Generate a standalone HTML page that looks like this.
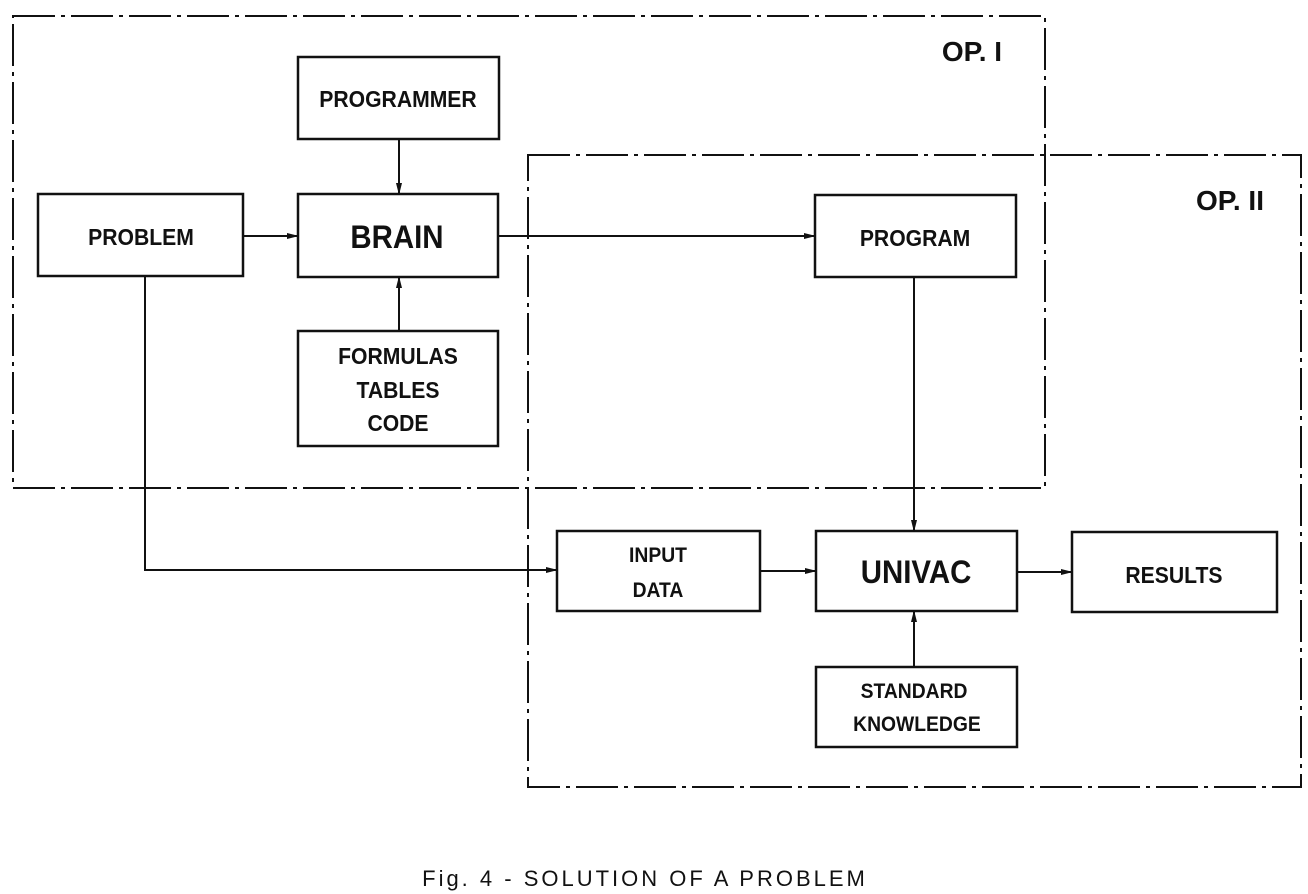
<!DOCTYPE html>
<html><head><meta charset="utf-8"><style>
html,body{margin:0;padding:0;background:#fff;}
svg{display:block;}
text{font-family:"Liberation Sans",sans-serif;font-weight:bold;fill:#111;text-anchor:middle;}
</style></head><body>
<svg width="1308" height="894" viewBox="0 0 1308 894" xmlns="http://www.w3.org/2000/svg">
<defs><marker id="a" markerWidth="12" markerHeight="8" refX="11" refY="4" orient="auto" markerUnits="userSpaceOnUse"><path d="M0,1 L12,4 L0,7 z" fill="#111"/></marker></defs>
<g fill="none" stroke="#111" stroke-width="2" stroke-dasharray="42 6 4 6">
<rect x="13" y="16" width="1032" height="472"/>
<rect x="528" y="155" width="773" height="632"/>
</g>
<g fill="#fff" stroke="#111" stroke-width="2.5">
<rect x="298" y="57" width="201" height="82"/>
<rect x="38" y="194" width="205" height="82"/>
<rect x="298" y="194" width="200" height="83"/>
<rect x="815" y="195" width="201" height="82"/>
<rect x="298" y="331" width="200" height="115"/>
<rect x="557" y="531" width="203" height="80"/>
<rect x="816" y="531" width="201" height="80"/>
<rect x="1072" y="532" width="205" height="80"/>
<rect x="816" y="667" width="201" height="80"/>
</g>
<g stroke="#111" stroke-width="2" fill="none" marker-end="url(#a)">
<line x1="399" y1="139" x2="399" y2="194"/>
<line x1="243" y1="236" x2="298" y2="236"/>
<line x1="498" y1="236" x2="815" y2="236"/>
<line x1="399" y1="331" x2="399" y2="277"/>
<polyline points="145,276 145,570 557,570"/>
<line x1="760" y1="571" x2="816" y2="571"/>
<line x1="914" y1="277" x2="914" y2="531"/>
<line x1="1017" y1="572" x2="1072" y2="572"/>
<line x1="914" y1="667" x2="914" y2="611"/>
</g>
<g transform="scale(0.92,1)">
<text x="432.6" y="107" font-size="23">PROGRAMMER</text>
<text x="153.3" y="245" font-size="23">PROBLEM</text>
<text x="431.5" y="248" font-size="32">BRAIN</text>
<text x="994.6" y="246" font-size="23">PROGRAM</text>
<text x="432.6" y="364" font-size="23">FORMULAS</text>
<text x="432.6" y="398" font-size="23">TABLES</text>
<text x="432.6" y="431" font-size="23">CODE</text>
<text x="715.2" y="562" font-size="21">INPUT</text>
<text x="715.2" y="597" font-size="21">DATA</text>
<text x="995.7" y="583" font-size="32">UNIVAC</text>
<text x="1276" y="583" font-size="23">RESULTS</text>
<text x="993.5" y="698" font-size="21">STANDARD</text>
<text x="996.7" y="731" font-size="21">KNOWLEDGE</text>
</g>
<text x="972" y="61" font-size="28">OP. I</text>
<text x="1230" y="210" font-size="28">OP. II</text>
<text x="645" y="886" font-size="22" letter-spacing="3" style="font-weight:normal">Fig. 4 - SOLUTION OF A PROBLEM</text>
</svg>
</body></html>
